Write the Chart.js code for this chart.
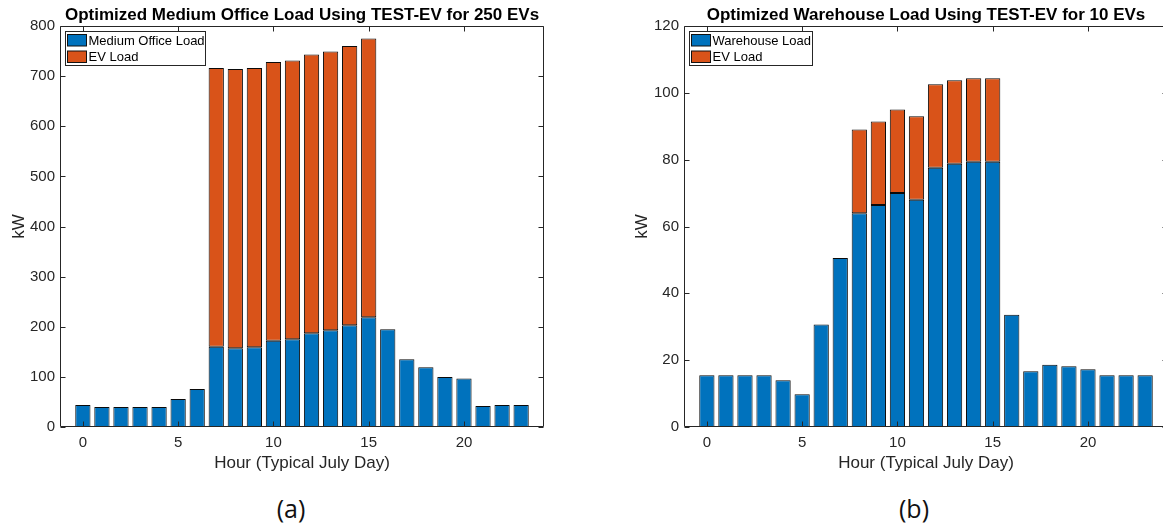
<!DOCTYPE html>
<html>
<head>
<meta charset="utf-8">
<title>Optimized Loads Using TEST-EV</title>
<script src="https://cdn.jsdelivr.net/npm/chart.js@4.4.1/dist/chart.umd.min.js"></script>
<style>
  html, body { margin: 0; padding: 0; background: #fff; overflow: hidden; width: 1163px; height: 529px; }
  canvas { position: absolute; top: 0; }
  #officeChart { left: 0; }
  #warehouseChart { left: 623px; }
  .caption {
    position: absolute; top: 490px; width: 80px; margin-left: -40px; text-align: center;
    font-family: 'Open Sans', 'DejaVu Sans', sans-serif; font-size: 25px; line-height: 36px; color: #111;
  }
</style>
</head>
<body>
<canvas id="officeChart" width="581" height="480"></canvas>
<canvas id="warehouseChart" width="545" height="480"></canvas>
<div class="caption" style="left:291px">(a)</div>
<div class="caption" style="left:914px">(b)</div>
<script>
// Hours of the typical July day
const hours = [0, 1, 2, 3, 4, 5, 6, 7, 8, 9, 10, 11, 12, 13, 14, 15, 16, 17, 18, 19, 20, 21, 22, 23];

// Medium office building, 250 EVs (kW)
const officeLoad = [44, 40, 40, 40, 40, 56, 76, 160, 157, 159, 172, 175, 187, 193, 203, 219, 195, 135, 119, 100, 97, 42, 44, 44];
const officeEvLoad = [null, null, null, null, null, null, null, 556, 557, 557, 556, 556, 556, 556, 557, 556, null, null, null, null, null, null, null, null];

// Warehouse building, 10 EVs (kW)
const warehouseLoad = [15.5, 15.5, 15.5, 15.5, 14, 9.8, 30.7, 50.6, 64, 66.4, 70, 68, 77.6, 78.8, 79.4, 79.4, 33.6, 16.7, 18.6, 18.2, 17.3, 15.5, 15.5, 15.5];
const warehouseEvLoad = [null, null, null, null, null, null, null, null, 25, 25, 25, 25, 25, 25, 25, 25, null, null, null, null, null, null, null, null];

// Axis ticks
const hourTicks = [0, 5, 10, 15, 20];
const officeTicks = [0, 100, 200, 300, 400, 500, 600, 700, 800];
const warehouseTicks = [0, 20, 40, 60, 80, 100, 120];

const BLUE = '#0072BD';
const ORANGE = '#D95319';
const AXIS = '#262626';
const FONT = "'Liberation Sans', Arial, Helvetica, sans-serif";

Chart.defaults.font.family = FONT;
Chart.defaults.color = AXIS;

// Boxed axes with inward tick marks, plus a boxed legend in the top-left corner
const boxedAxes = {
  id: 'boxedAxes',
  afterDatasetsDraw(chart) {
    const { ctx, chartArea: a, scales: { x, y } } = chart;
    const L = Math.round(a.left) + 0.5, R = Math.round(a.right) - 0.5;
    const T = Math.round(a.top) + 0.5, B = Math.round(a.bottom) - 0.5;
    ctx.save();
    ctx.strokeStyle = AXIS;
    ctx.lineWidth = 1;
    ctx.beginPath();
    ctx.rect(L, T, R - L, B - T);
    x.ticks.forEach(t => {
      const px = Math.round(x.getPixelForValue(t.value)) + 0.5;
      ctx.moveTo(px, B); ctx.lineTo(px, B - 5);
      ctx.moveTo(px, T); ctx.lineTo(px, T + 5);
    });
    y.ticks.forEach(t => {
      const py = Math.round(y.getPixelForValue(t.value)) + 0.5;
      ctx.moveTo(L, py); ctx.lineTo(L + 5, py);
      ctx.moveTo(R, py); ctx.lineTo(R - 5, py);
    });
    ctx.stroke();
    ctx.restore();
  },
  afterDraw(chart) {
    const { ctx, chartArea: a } = chart;
    const sets = chart.data.datasets;
    ctx.save();
    ctx.font = '13px ' + FONT;
    const textW = Math.max(...sets.map(d => ctx.measureText(d.label).width));
    const bx = Math.round(a.left) + 5.5, by = Math.round(a.top) + 5.5;
    const bw = Math.round(23 + textW + 1), bh = 34;
    ctx.fillStyle = '#fff';
    ctx.fillRect(bx, by, bw, bh);
    ctx.strokeStyle = AXIS;
    ctx.lineWidth = 1;
    ctx.strokeRect(bx, by, bw, bh);
    sets.forEach((d, i) => {
      const sy = by + 3 + i * 16.5;
      ctx.fillStyle = d.backgroundColor;
      ctx.fillRect(bx + 2, sy, 19, 11.5);
      ctx.strokeStyle = '#111';
      ctx.strokeRect(bx + 2, sy, 19, 11.5);
      ctx.fillStyle = '#000';
      ctx.textBaseline = 'middle';
      ctx.textAlign = 'left';
      ctx.fillText(d.label, bx + 23, sy + 6.5);
    });
    ctx.restore();
  }
};

function barSet(label, data, color) {
  return {
    label, data,
    backgroundColor: color,
    borderColor: '#0a0a0a',
    borderWidth: 1,
    borderSkipped: false,
    barPercentage: 0.8,
    categoryPercentage: 1.0
  };
}

function buildChart(canvasId, titleText, baseLabel, baseData, evData, yTicks, yMax, yWidth, padRight) {
  return new Chart(document.getElementById(canvasId), {
    type: 'bar',
    data: {
      labels: hours,
      datasets: [barSet(baseLabel, baseData, BLUE), barSet('EV Load', evData, ORANGE)]
    },
    plugins: [boxedAxes],
    options: {
      responsive: false,
      animation: false,
      layout: { padding: { left: 0, right: padRight, top: 0, bottom: 0 } },
      plugins: {
        legend: { display: false },
        tooltip: { enabled: false },
        title: {
          display: true,
          text: titleText,
          fullSize: false,
          color: '#000',
          font: { size: 17, weight: 'bold' },
          padding: { top: 4.8, bottom: 0.8 }
        }
      },
      scales: {
        x: {
          type: 'linear',
          stacked: true,
          offset: false,
          min: -1.2,
          max: 24.2,
          afterBuildTicks: s => { s.ticks = hourTicks.map(v => ({ value: v })); },
          afterFit: s => { s.height = 53; },
          grid: { display: false, drawTicks: false, tickLength: 0 },
          border: { display: false },
          ticks: { color: AXIS, font: { size: 15 }, padding: 7, maxRotation: 0 },
          title: {
            display: true,
            text: 'Hour (Typical July Day)',
            color: AXIS,
            font: { size: 17 },
            padding: { top: 0, bottom: 6.8 }
          }
        },
        y: {
          stacked: true,
          min: 0,
          max: yMax,
          afterBuildTicks: s => { s.ticks = yTicks.map(v => ({ value: v })); },
          afterFit: s => { s.width = yWidth; },
          grid: { display: false, drawTicks: false, tickLength: 0 },
          border: { display: false },
          ticks: { color: AXIS, font: { size: 15 }, padding: 5 },
          title: {
            display: true,
            text: 'kW',
            color: AXIS,
            font: { size: 17 },
            padding: { top: 9, bottom: 0 }
          }
        }
      }
    }
  });
}

buildChart('officeChart', 'Optimized Medium Office Load Using TEST-EV for 250 EVs',
  'Medium Office Load', officeLoad, officeEvLoad, officeTicks, 800, 60, 37);
buildChart('warehouseChart', 'Optimized Warehouse Load Using TEST-EV for 10 EVs',
  'Warehouse Load', warehouseLoad, warehouseEvLoad, warehouseTicks, 120, 61, 0);
</script>
</body>
</html>
